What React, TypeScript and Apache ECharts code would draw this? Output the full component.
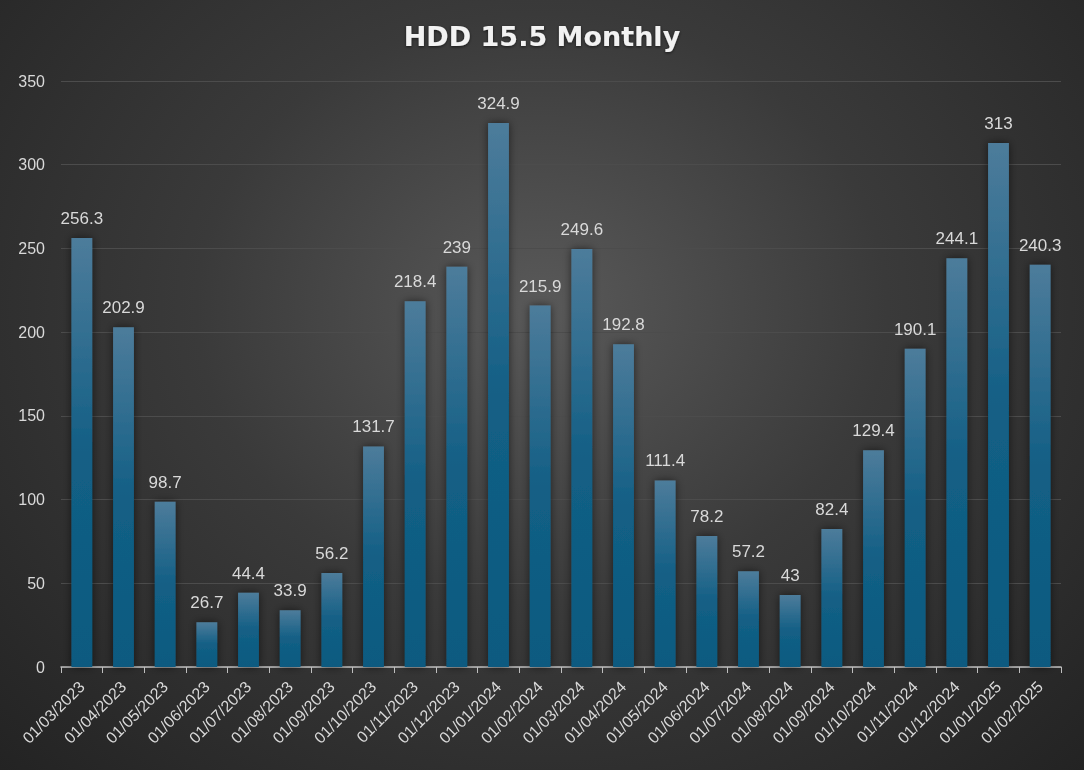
import React, { useEffect, useRef } from "react";
import * as echarts from "echarts";

const categories = [
  "01/03/2023", "01/04/2023", "01/05/2023", "01/06/2023", "01/07/2023", "01/08/2023",
  "01/09/2023", "01/10/2023", "01/11/2023", "01/12/2023", "01/01/2024", "01/02/2024",
  "01/03/2024", "01/04/2024", "01/05/2024", "01/06/2024", "01/07/2024", "01/08/2024",
  "01/09/2024", "01/10/2024", "01/11/2024", "01/12/2024", "01/01/2025", "01/02/2025",
];
const hddValues = [
  256.3, 202.9, 98.7, 26.7, 44.4, 33.9, 56.2, 131.7, 218.4, 239, 324.9, 215.9,
  249.6, 192.8, 111.4, 78.2, 57.2, 43, 82.4, 129.4, 190.1, 244.1, 313, 240.3,
];
const titleText = "HDD 15.5 Monthly";

export default function App() {
  const ref = useRef<HTMLDivElement>(null);
  useEffect(() => {
    document.body.style.margin = "0";
    const chart = echarts.init(ref.current!, null, { renderer: "svg" });
    chart.setOption({
      animation: false,
      title: {
        text: titleText,
        left: "center",
        top: 18,
        textStyle: {
          color: "#f2f2f2",
          fontSize: 27,
          fontWeight: "bold",
          fontFamily: "DejaVu Sans",
          textShadowColor: "rgba(0,0,0,0.6)",
          textShadowBlur: 3,
          textShadowOffsetY: 1,
        },
      },
      grid: { left: 61, right: 23, top: 81, bottom: 103, containLabel: false },
      xAxis: {
        type: "category",
        data: categories,
        axisLine: { lineStyle: { color: "#bfbfbf", width: 1.5 } },
        axisTick: { show: true, length: 6, lineStyle: { color: "#bfbfbf" } },
        axisLabel: {
          rotate: 45,
          interval: 0,
          color: "#d9d9d9",
          fontSize: 16,
          fontFamily: "Liberation Sans",
          margin: 17,
        },
      },
      yAxis: {
        type: "value",
        min: 0,
        max: 350,
        interval: 50,
        axisLine: { show: false },
        axisTick: { show: false },
        splitLine: { lineStyle: { color: "#4c4c4c", width: 1 } },
        axisLabel: {
          color: "#d9d9d9",
          fontSize: 16,
          fontFamily: "Liberation Sans",
          margin: 16,
        },
      },
      series: [
        {
          type: "bar",
          data: hddValues,
          barWidth: "50%",
          itemStyle: {
            color: new echarts.graphic.LinearGradient(0, 0, 0, 1, [
              { offset: 0, color: "#4d7c9b" },
              { offset: 0.5, color: "#135f85" },
              { offset: 1, color: "#0b5a80" },
            ]),
            shadowColor: "rgba(0,0,0,0.55)",
            shadowBlur: 8,
          },
          label: {
            show: true,
            position: "top",
            distance: 11,
            color: "#d9d9d9",
            fontSize: 17,
            fontFamily: "Liberation Sans",
          },
        },
      ],
    });
    return () => chart.dispose();
  }, []);
  return (
    <div
      ref={ref}
      style={{
        position: "fixed",
        left: 0,
        top: 0,
        width: 1084,
        height: 770,
        background: "radial-gradient(ellipse at 50% 40%, #595959 0%, #3a3a3a 45%, #232323 100%)",
      }}
    />
  );
}
